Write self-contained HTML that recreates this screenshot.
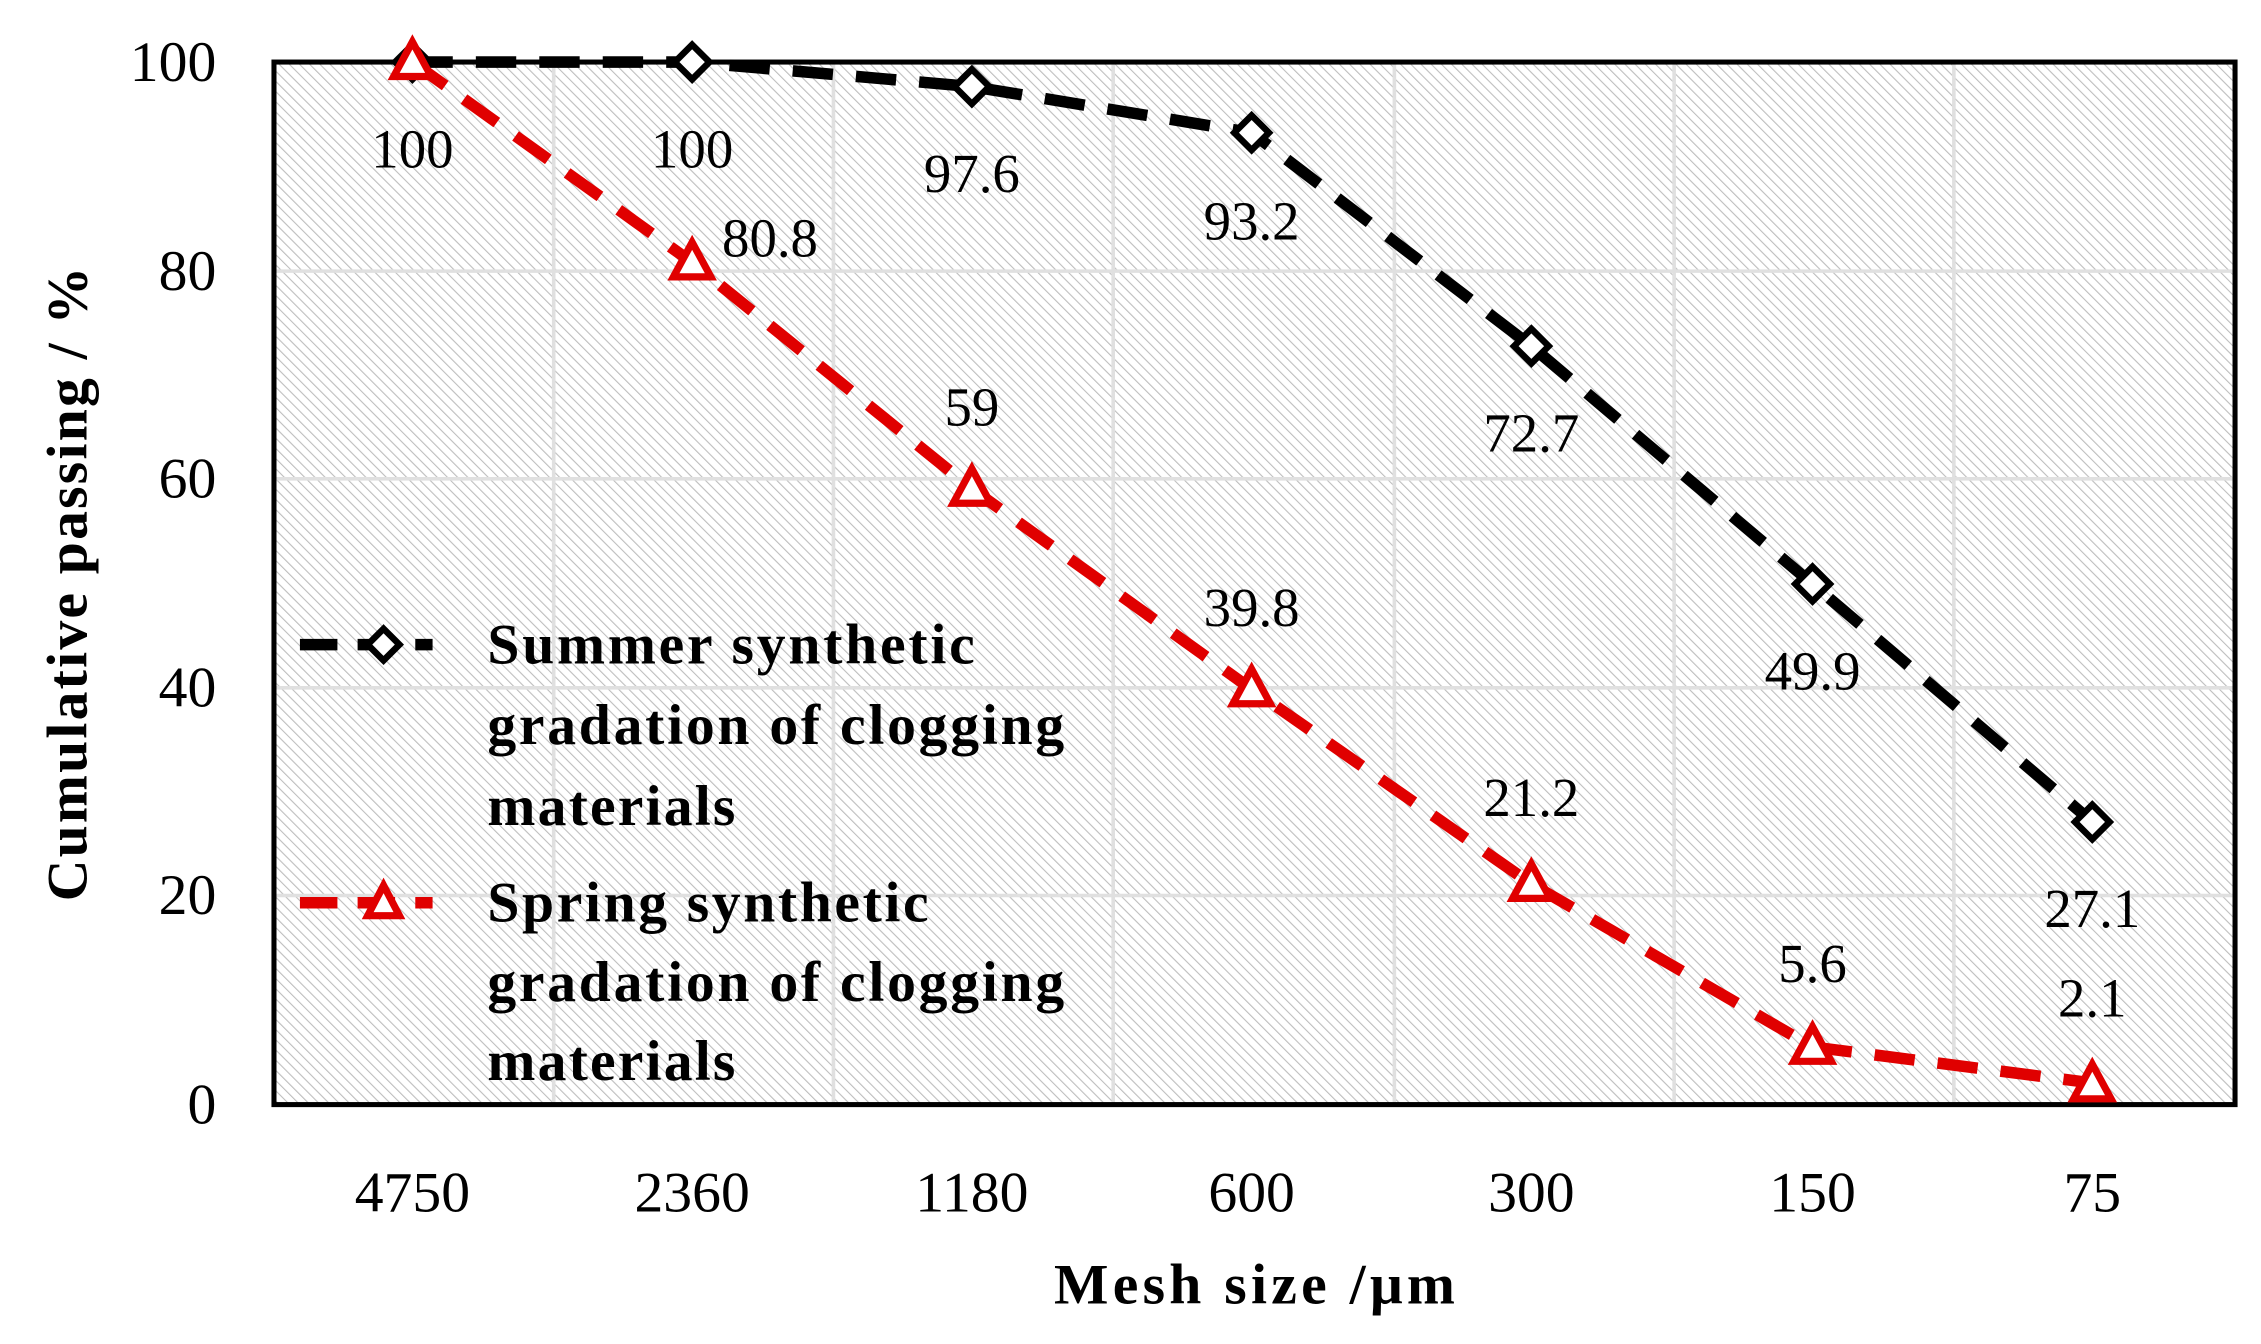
<!DOCTYPE html>
<html><head><meta charset="utf-8"><style>html,body{margin:0;padding:0;background:#fff}svg{display:block}</style></head>
<body>
<svg width="2261" height="1344" viewBox="0 0 1568 932" xmlns="http://www.w3.org/2000/svg" font-family="'Liberation Serif', serif">
<defs>
<pattern id="h" width="5" height="5" patternUnits="userSpaceOnUse" patternTransform="rotate(-45)">
<rect width="5" height="5" fill="#fff"/>
<line x1="0" y1="0" x2="0" y2="5" stroke="#bdbdbd" stroke-width="1.5"/>
</pattern>
</defs>
<rect x="190" y="43" width="1360" height="723" fill="url(#h)"/>
<g stroke="#e0e0e0" stroke-width="2.5">
<line x1="384" y1="43" x2="384" y2="766"/><line x1="578" y1="43" x2="578" y2="766"/><line x1="772" y1="43" x2="772" y2="766"/><line x1="967" y1="43" x2="967" y2="766"/><line x1="1161" y1="43" x2="1161" y2="766"/><line x1="1355" y1="43" x2="1355" y2="766"/>
<line x1="190" y1="188" x2="1550" y2="188"/><line x1="190" y1="332" x2="1550" y2="332"/><line x1="190" y1="477" x2="1550" y2="477"/><line x1="190" y1="621" x2="1550" y2="621"/>
</g>
<rect x="190" y="43" width="1360" height="723" fill="none" stroke="#000" stroke-width="3.5"/>
<g font-size="40" text-anchor="end" fill="#000">
<text x="150" y="56">100</text><text x="150" y="201">80</text><text x="150" y="345">60</text><text x="150" y="490">40</text><text x="150" y="634">20</text><text x="150" y="779">0</text>
</g>
<g font-size="40" text-anchor="middle">
<text x="286" y="840">4750</text><text x="480" y="840">2360</text><text x="674" y="840">1180</text><text x="868" y="840">600</text><text x="1062" y="840">300</text><text x="1257" y="840">150</text><text x="1451" y="840">75</text>
</g>
<text x="870" y="904" font-size="40" font-weight="bold" text-anchor="middle" textLength="278">Mesh size /μm</text>
<text transform="translate(60,405) rotate(-90)" font-size="40" font-weight="bold" text-anchor="middle" textLength="440">Cumulative passing / %</text>
<polyline points="286,43 480,43 674,60 868,92 1062,240 1257,405 1451,570" fill="none" stroke="#000" stroke-width="8" stroke-dasharray="28,16"/>
<polyline points="286,43 480,182 674,339 868,478 1062,613 1257,726 1451,751" fill="none" stroke="#e00000" stroke-width="8" stroke-dasharray="28,16"/>
<g fill="#fff" stroke="#000" stroke-width="4.5">
<path d="M286,31 298,43 286,55 274,43Z"/><path d="M480,31 492,43 480,55 468,43Z"/><path d="M674,48 686,60 674,72 662,60Z"/><path d="M868,80 880,92 868,104 856,92Z"/><path d="M1062,228 1074,240 1062,252 1050,240Z"/><path d="M1257,393 1269,405 1257,417 1245,405Z"/><path d="M1451,558 1463,570 1451,582 1439,570Z"/>
</g>
<g fill="#fff" stroke="#e00000" stroke-width="5">
<path d="M286,29 299,53 273,53Z"/><path d="M480,168 493,192 467,192Z"/><path d="M674,325 687,349 661,349Z"/><path d="M868,464 881,488 855,488Z"/><path d="M1062,599 1075,623 1049,623Z"/><path d="M1257,712 1270,736 1244,736Z"/><path d="M1451,738 1464,762 1438,762Z"/>
</g>
<g font-size="38" text-anchor="middle">
<text x="286" y="116">100</text><text x="480" y="116">100</text><text x="674" y="133">97.6</text><text x="868" y="166">93.2</text><text x="1062" y="313">72.7</text><text x="1257" y="478">49.9</text><text x="1451" y="643">27.1</text>
<text x="534" y="178">80.8</text><text x="674" y="295">59</text><text x="868" y="434">39.8</text><text x="1062" y="566">21.2</text><text x="1257" y="681">5.6</text><text x="1451" y="705">2.1</text>
</g>
<line x1="208" y1="447" x2="300" y2="447" stroke="#000" stroke-width="8" stroke-dasharray="26,14"/>
<path d="M266,436 277,447 266,458 255,447Z" fill="#fff" stroke="#000" stroke-width="4.5"/>
<line x1="208" y1="626" x2="300" y2="626" stroke="#e00000" stroke-width="8" stroke-dasharray="26,14"/>
<path d="M266,614 277,635 255,635Z" fill="#fff" stroke="#e00000" stroke-width="5"/>
<g font-size="40" font-weight="bold">
<text x="338" y="460" textLength="338">Summer synthetic</text><text x="338" y="516" textLength="400">gradation of clogging</text><text x="338" y="572" textLength="172">materials</text>
<text x="338" y="639" textLength="306">Spring synthetic</text><text x="338" y="694" textLength="400">gradation of clogging</text><text x="338" y="749" textLength="172">materials</text>
</g>
</svg>
</body></html>
